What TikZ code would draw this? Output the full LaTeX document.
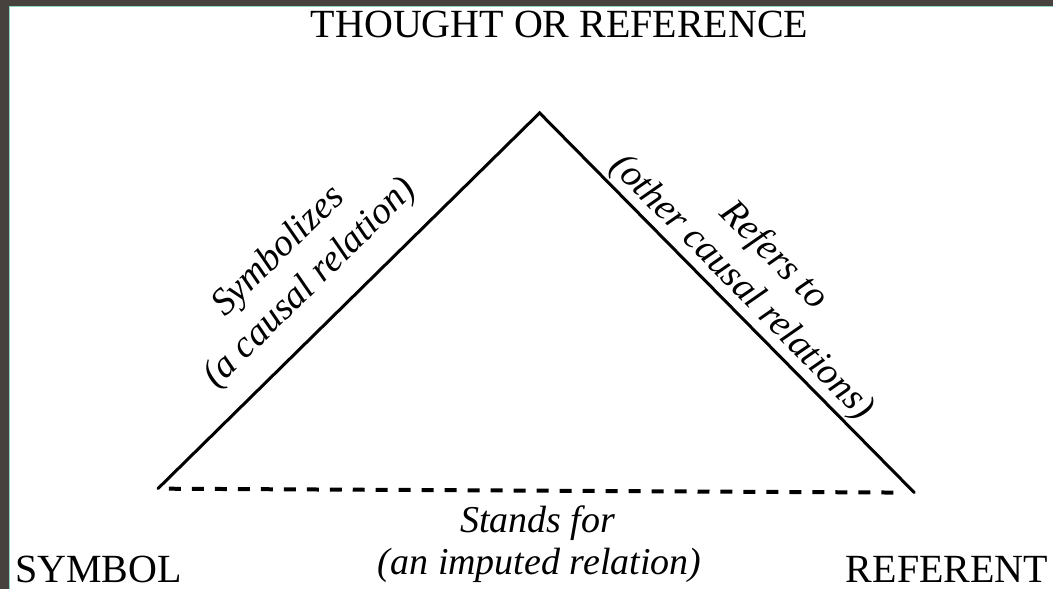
\documentclass[tikz,border=0pt]{standalone}
\usepackage{fontspec}
\setmainfont{Liberation Serif}
\definecolor{framedark}{HTML}{47423D}
\definecolor{frameteal}{HTML}{8ED6C4}
\begin{document}
\begin{tikzpicture}[x=1pt,y=-1pt,
  edge/.style={line width=3pt, line cap=round, line join=miter},
  imputed/.style={line width=4pt, dash pattern=on 12pt off 11pt},
  caps/.style={font=\fontsize{40}{44}\selectfont, inner sep=0pt},
  rel/.style={font=\fontsize{38}{45}\selectfont\itshape, inner sep=0pt, align=center}]
\fill[framedark] (0,0) rectangle (1054,589);
\fill[white] (9,6) rectangle (1054,589);
\draw[frameteal, line width=1.5pt] (9.5,589) -- (9.5,6.5) -- (1054,6.5);
\useasboundingbox (0,0) rectangle (1054,589);

% corners of the triangle
\coordinate (apex) at (540,113);
\coordinate (sym) at (158,489);
\coordinate (ref) at (915,493);

% labels of the corners
\node[caps, anchor=base] (thought) at (560,38) {THOUGHT OR REFERENCE};
\node[caps, anchor=base west] (symbol) at (15,583) {SYMBOL};
\node[caps, anchor=base east] (referent) at (1049,583) {REFERENT};

% sides
\draw[edge] (sym) -- (apex) -- (ref);
\draw[imputed, shorten <=11pt, shorten >=12pt] (sym) -- (ref);

% relation labels
\node[rel, rotate=44.5] (symbolizes) at (295,268) {Symbolizes\\(a causal relation)};
\node[rel, rotate=-45.3] (refers) at (758,272) {Refers to\\(other causal relations)};
\node[rel, anchor=base] (stands) at (538,533) {Stands for};
\node[rel, anchor=base] (imputedrel) at (540,575) {(an imputed relation)};
\end{tikzpicture}
\end{document}
